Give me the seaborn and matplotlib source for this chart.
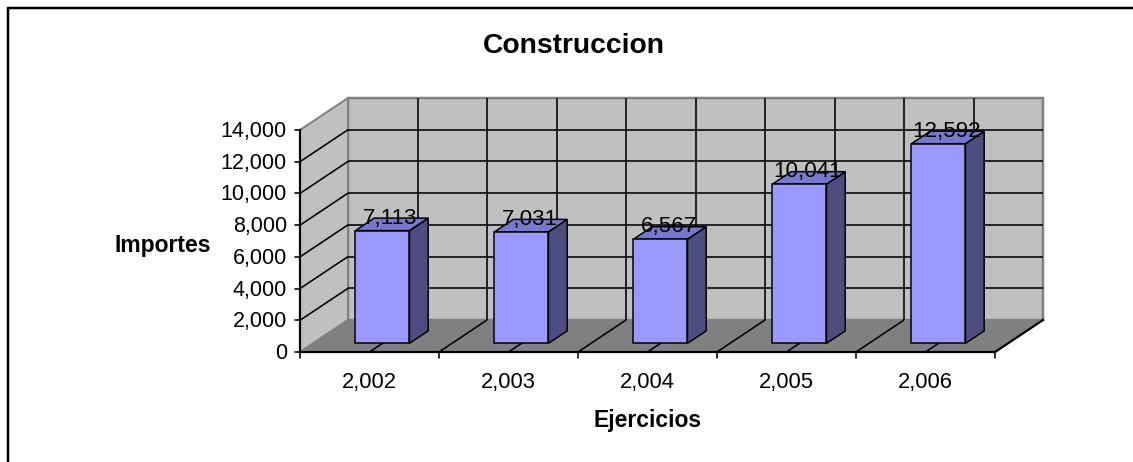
import numpy as np
import pandas as pd
import matplotlib
matplotlib.use("Agg")
import matplotlib.pyplot as plt
from matplotlib.patches import Polygon
import seaborn as sns

# ---------------- data ----------------
years = ["2,002", "2,003", "2,004", "2,005", "2,006"]
importes = [7113, 7031, 6567, 10041, 12592]
value_labels = ["7,113", "7,031", "6,567", "10,041", "12,592"]
y_ticks = [0, 2000, 4000, 6000, 8000, 10000, 12000, 14000]
y_tick_labels = ["0", "2,000", "4,000", "6,000", "8,000", "10,000", "12,000", "14,000"]
title = "Construccion"
x_title = "Ejercicios"
y_title = "Importes"

# ---------------- style / geometry ----------------
W, H = 1133, 462
sns.set_theme(style="white")
plt.rcParams["font.family"] = ["Liberation Sans", "DejaVu Sans"]
plt.rcParams["text.color"] = "black"

PX = 0.72  # points per pixel at dpi 100
X0, Y0 = 300, 352            # pixel position of front-left floor corner
CAT_PX = 139.0               # pixels per category
VAL_PX = 222.0 / 14000.0     # pixels per value unit
DX = 48.0 / CAT_PX           # depth offset in category units
DY = 32.0 / VAL_PX           # depth offset in value units
D1, D2 = 0.27, 0.66          # bar depth range (fraction of floor depth)
BAR_W = 54.0 / CAT_PX

WALL = "#C0C0C0"
FLOOR = "#808080"
EDGE = "#808080"
FRONT = "#9999FF"
SIDE = "#4D4D80"
TOP = "#7878CC"

fig = plt.figure(figsize=(W / 100, H / 100), dpi=100)
ax = fig.add_axes([0, 0, 1, 1])

n = len(years)
c_lo, c_hi = -0.5, n - 0.5
vmax = y_ticks[-1]


def P(c, v, d):
    return (c + d * DX, v + d * DY)


# walls and floor
back = Polygon([P(c_lo, 0, 1), P(c_hi, 0, 1), P(c_hi, vmax, 1), P(c_lo, vmax, 1)],
               closed=True, fc=WALL, ec=EDGE, lw=2.5 * PX, zorder=1)
left = Polygon([P(c_lo, 0, 0), P(c_lo, 0, 1), P(c_lo, vmax, 1), P(c_lo, vmax, 0)],
               closed=True, fc=WALL, ec=EDGE, lw=2 * PX, zorder=1)
floor = Polygon([P(c_lo, 0, 0), P(c_hi, 0, 0), P(c_hi, 0, 1), P(c_lo, 0, 1)],
                closed=True, fc=FLOOR, ec=EDGE, lw=1.5 * PX, zorder=1.5)
for poly in (back, left, floor):
    ax.add_patch(poly)

GL = dict(color="black", lw=1.6 * PX, zorder=2, solid_capstyle="butt")
# horizontal gridlines on back and left walls
for v in y_ticks[1:-1]:
    (x1, y1), (x2, y2) = P(c_lo, v, 1), P(c_hi, v, 1)
    ax.plot([x1, x2], [y1, y2], **GL)
    (x1, y1), (x2, y2) = P(c_lo, v, 0), P(c_lo, v, 1)
    ax.plot([x1, x2], [y1, y2], **GL)
# vertical gridlines on back wall + floor lines, every half category
for c in np.arange(c_lo + 0.5, c_hi - 0.25, 0.5):
    (x1, y1), (x2, y2) = P(c, 0, 1), P(c, vmax, 1)
    ax.plot([x1, x2], [y1, y2], **GL)
    (x1, y1), (x2, y2) = P(c, 0, 0), P(c, 0, 1)
    ax.plot([x1, x2], [y1, y2], **GL)

# axes lines
AX = dict(color="black", lw=2.2 * PX, zorder=3, solid_capstyle="projecting")
ax.plot([c_lo, c_hi], [0, 0], **AX)
(x1, y1), (x2, y2) = P(c_hi, 0, 0), P(c_hi, 0, 1)
ax.plot([x1, x2], [y1, y2], **AX)
ax.plot([c_lo, c_lo], [0, vmax], **AX)
for v in y_ticks:
    ax.plot([c_lo - 5 / CAT_PX, c_lo], [v, v], color="black", lw=1.6 * PX, zorder=3)
for c in np.arange(c_lo, c_hi + 0.01, 1.0):
    ax.plot([c, c], [0, -6 / VAL_PX], color="black", lw=1.6 * PX, zorder=3)

# tick labels
for v, lab in zip(y_ticks, y_tick_labels):
    ax.text(c_lo - 13 / CAT_PX, v - 7 / VAL_PX, lab, ha="right", va="baseline",
            fontsize=15.5, color="black")
for i, lab in enumerate(years):
    ax.text(i, -36 / VAL_PX, lab, ha="center", va="baseline", fontsize=15.8, color="black")

# ---------------- bars (front faces via seaborn) ----------------
df = pd.DataFrame({"Ejercicio": years, "Importe": importes})
sns.barplot(data=df, x="Ejercicio", y="Importe", order=years, color=FRONT,
            saturation=1, width=BAR_W, errorbar=None, bottom=D1 * DY,
            edgecolor="black", linewidth=1.5 * PX, zorder=6, ax=ax)
bars = list(ax.containers[0])
dd = D2 - D1
for p, lab in zip(bars, value_labels):
    p.set_facecolor(FRONT)
    p.set_x(p.get_x() + D1 * DX)
    x0, w, b, h = p.get_x(), p.get_width(), p.get_y(), p.get_height()
    side = Polygon([(x0 + w, b), (x0 + w + dd * DX, b + dd * DY),
                    (x0 + w + dd * DX, b + h + dd * DY), (x0 + w, b + h)],
                   closed=True, fc=SIDE, ec="black", lw=1.5 * PX, zorder=5)
    top = Polygon([(x0, b + h), (x0 + w, b + h), (x0 + w + dd * DX, b + h + dd * DY),
                   (x0 + dd * DX, b + h + dd * DY)],
                  closed=True, fc=TOP, ec="black", lw=1.5 * PX, zorder=5)
    ax.add_patch(side)
    ax.add_patch(top)
    ax.text(x0 + w / 2 + 8 / CAT_PX, b + h + 7 / VAL_PX, lab, ha="center",
            va="baseline", fontsize=16.1, color="black", zorder=8)

# limits matching pixel geometry
xl = -0.5 - X0 / CAT_PX
yl = -(H - Y0) / VAL_PX
ax.set_xlim(xl, xl + W / CAT_PX)
ax.set_ylim(yl, yl + H / VAL_PX)
ax.set_axis_off()

# titles
def fx(px):
    return px / W

def fy(py):
    return 1 - py / H

fig.text(fx(574), fy(53), title, ha="center", va="baseline", fontsize=20.3,
         fontweight="bold", color="black")
fig.text(fx(163), fy(252), y_title, ha="center", va="baseline", fontsize=16.5,
         fontweight="bold", color="black")
fig.text(fx(648), fy(427), x_title, ha="center", va="baseline", fontsize=16.5,
         fontweight="bold", color="black")

# chart border (top and left edges visible)
ax.plot([fx(8), fx(W + 10)], [fy(8), fy(8)], transform=fig.transFigure, color="black",
        lw=2.5 * PX, clip_on=False, zorder=10)
ax.plot([fx(8), fx(8)], [fy(8), fy(H + 10)], transform=fig.transFigure, color="black",
        lw=2.5 * PX, clip_on=False, zorder=10)

fig.savefig("out.png", dpi=100)
